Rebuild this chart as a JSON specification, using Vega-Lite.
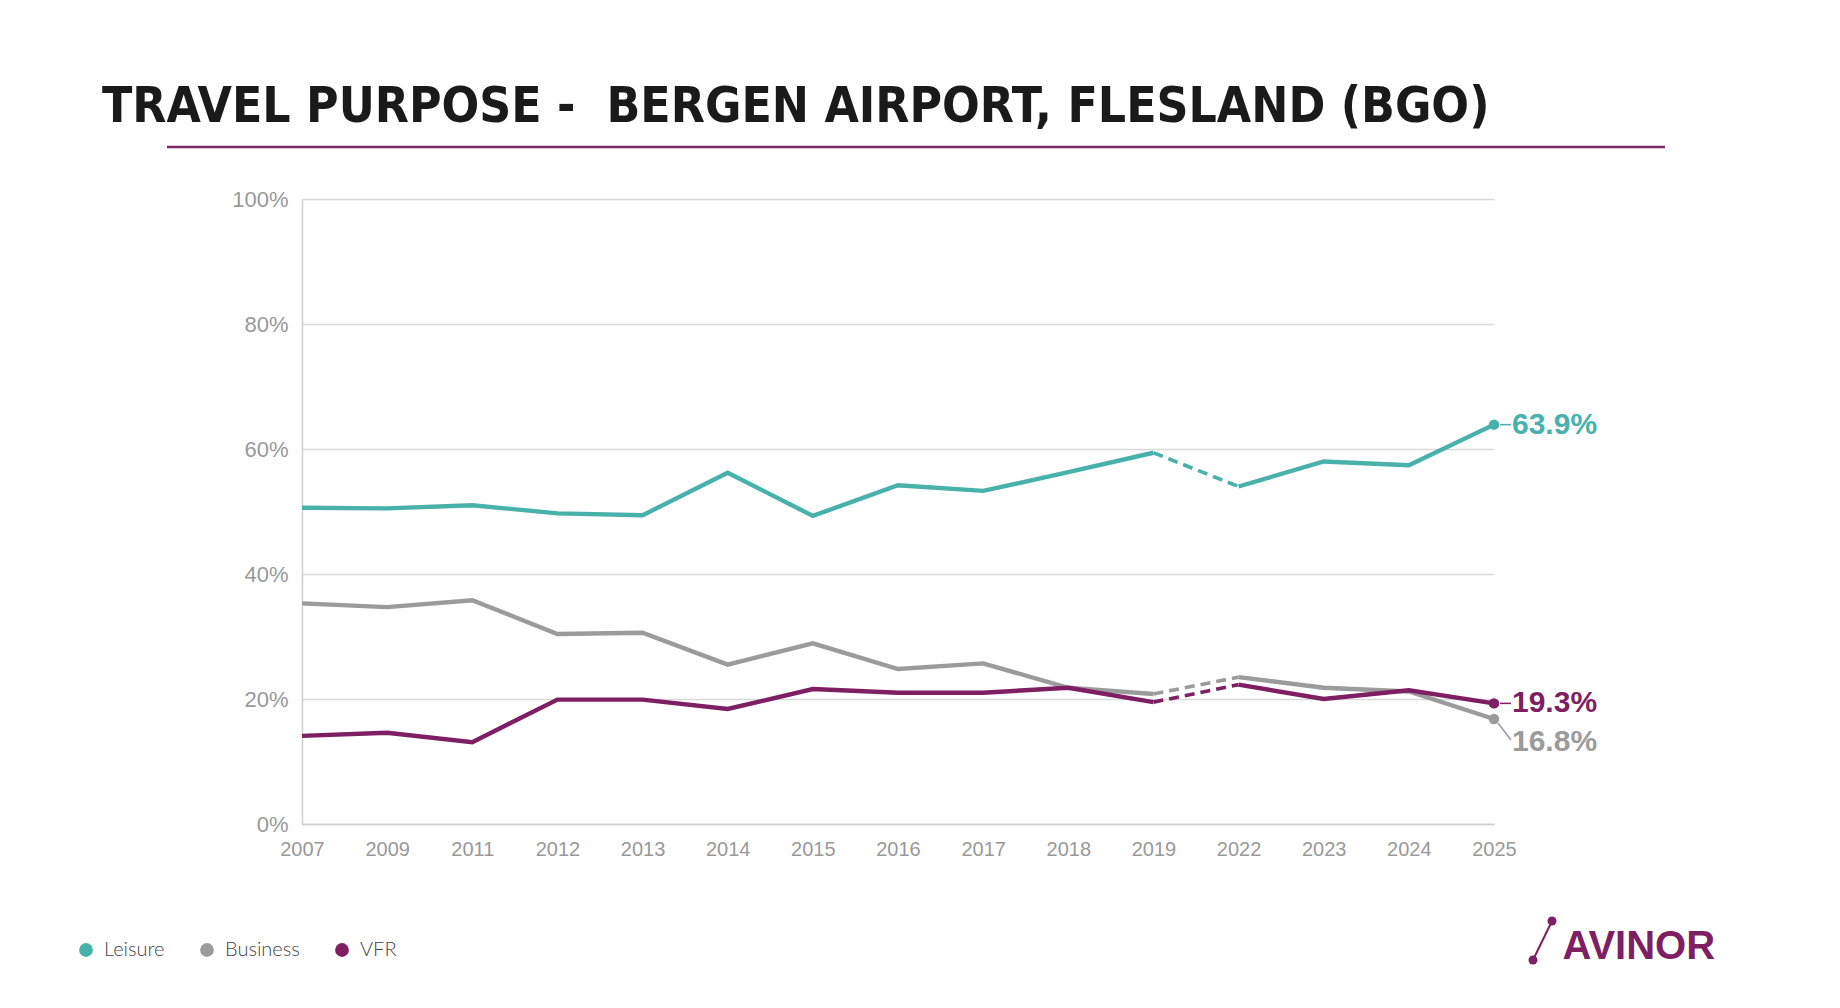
{
  "$schema": "https://vega.github.io/schema/vega-lite/v6.json",
  "width": 1192,
  "height": 625,
  "autosize": {"type": "none"},
  "padding": {"left": 302, "top": 199, "right": 346, "bottom": 184},
  "background": "white",
  "title": {
    "text": "TRAVEL PURPOSE -\u00a0 BERGEN AIRPORT, FLESLAND (BGO)",
    "anchor": "start",
    "frame": "group",
    "dx": -200,
    "offset": -26,
    "baseline": "alphabetic",
    "font": "DejaVu Sans Condensed, sans-serif",
    "fontSize": 49.4,
    "fontWeight": "bold",
    "color": "#1a1a1a"
  },
  "config": {
    "view": {"stroke": null},
    "font": "Liberation Sans",
    "axis": {
      "domainColor": "#d0d0d0",
      "domainWidth": 1.5,
      "gridColor": "#d9d9d9",
      "gridWidth": 1.5,
      "ticks": false,
      "labelColor": "#999999",
      "labelFont": "Liberation Sans"
    }
  },
  "data": {
    "values": [
      {"year": "2007", "i": 0, "purpose": "Leisure", "share": 50.6},
      {"year": "2009", "i": 1, "purpose": "Leisure", "share": 50.5},
      {"year": "2011", "i": 2, "purpose": "Leisure", "share": 51.0},
      {"year": "2012", "i": 3, "purpose": "Leisure", "share": 49.7},
      {"year": "2013", "i": 4, "purpose": "Leisure", "share": 49.4},
      {"year": "2014", "i": 5, "purpose": "Leisure", "share": 56.2},
      {"year": "2015", "i": 6, "purpose": "Leisure", "share": 49.3},
      {"year": "2016", "i": 7, "purpose": "Leisure", "share": 54.2},
      {"year": "2017", "i": 8, "purpose": "Leisure", "share": 53.3},
      {"year": "2018", "i": 9, "purpose": "Leisure", "share": 56.3},
      {"year": "2019", "i": 10, "purpose": "Leisure", "share": 59.4},
      {"year": "2022", "i": 11, "purpose": "Leisure", "share": 54.0},
      {"year": "2023", "i": 12, "purpose": "Leisure", "share": 58.0},
      {"year": "2024", "i": 13, "purpose": "Leisure", "share": 57.4},
      {"year": "2025", "i": 14, "purpose": "Leisure", "share": 63.9},
      {"year": "2007", "i": 0, "purpose": "Business", "share": 35.3},
      {"year": "2009", "i": 1, "purpose": "Business", "share": 34.7},
      {"year": "2011", "i": 2, "purpose": "Business", "share": 35.8},
      {"year": "2012", "i": 3, "purpose": "Business", "share": 30.4},
      {"year": "2013", "i": 4, "purpose": "Business", "share": 30.6},
      {"year": "2014", "i": 5, "purpose": "Business", "share": 25.5},
      {"year": "2015", "i": 6, "purpose": "Business", "share": 28.9},
      {"year": "2016", "i": 7, "purpose": "Business", "share": 24.8},
      {"year": "2017", "i": 8, "purpose": "Business", "share": 25.7},
      {"year": "2018", "i": 9, "purpose": "Business", "share": 21.8},
      {"year": "2019", "i": 10, "purpose": "Business", "share": 20.8},
      {"year": "2022", "i": 11, "purpose": "Business", "share": 23.5},
      {"year": "2023", "i": 12, "purpose": "Business", "share": 21.8},
      {"year": "2024", "i": 13, "purpose": "Business", "share": 21.2},
      {"year": "2025", "i": 14, "purpose": "Business", "share": 16.8},
      {"year": "2007", "i": 0, "purpose": "VFR", "share": 14.1},
      {"year": "2009", "i": 1, "purpose": "VFR", "share": 14.6},
      {"year": "2011", "i": 2, "purpose": "VFR", "share": 13.1},
      {"year": "2012", "i": 3, "purpose": "VFR", "share": 19.9},
      {"year": "2013", "i": 4, "purpose": "VFR", "share": 19.9},
      {"year": "2014", "i": 5, "purpose": "VFR", "share": 18.4},
      {"year": "2015", "i": 6, "purpose": "VFR", "share": 21.6},
      {"year": "2016", "i": 7, "purpose": "VFR", "share": 21.0},
      {"year": "2017", "i": 8, "purpose": "VFR", "share": 21.0},
      {"year": "2018", "i": 9, "purpose": "VFR", "share": 21.8},
      {"year": "2019", "i": 10, "purpose": "VFR", "share": 19.5},
      {"year": "2022", "i": 11, "purpose": "VFR", "share": 22.3},
      {"year": "2023", "i": 12, "purpose": "VFR", "share": 20.0},
      {"year": "2024", "i": 13, "purpose": "VFR", "share": 21.4},
      {"year": "2025", "i": 14, "purpose": "VFR", "share": 19.3}
    ]
  },
  "layer": [
    {
      "resolve": {"legend": {"color": "independent"}},
      "encoding": {
        "x": {
          "field": "year",
          "type": "ordinal",
          "scale": {"type": "point", "padding": 0},
          "axis": {
            "labelAngle": 0,
            "labelFontSize": 20,
            "labelPadding": 15,
            "title": "AVINOR",
            "titleX": 1260,
            "titleY": 134,
            "titleAlign": "left",
            "titleBaseline": "alphabetic",
            "titleFont": "Liberation Sans",
            "titleFontSize": 40,
            "titleFontWeight": "bold",
            "titleColor": "#7d1f62"
          }
        },
        "y": {
          "field": "share",
          "type": "quantitative",
          "scale": {"domain": [0, 100]},
          "axis": {
            "values": [0, 20, 40, 60, 80, 100],
            "labelExpr": "datum.value + '%'",
            "labelFontSize": 22,
            "labelPadding": 14,
            "title": null
          }
        },
        "color": {
          "field": "purpose",
          "type": "nominal",
          "scale": {
            "domain": ["Leisure", "Business", "VFR"],
            "range": ["#47b1aa", "#9b9b9b", "#7d1f62"]
          },
          "legend": null
        }
      },
      "layer": [
        {
          "transform": [{"filter": "datum.i <= 10"}],
          "mark": {"type": "line", "strokeWidth": 4.4}
        },
        {
          "transform": [{"filter": "datum.i >= 10 && datum.i <= 11"}],
          "mark": {"type": "line", "strokeWidth": 3.6, "strokeDash": [10, 6]}
        },
        {
          "transform": [{"filter": "datum.i >= 11"}],
          "mark": {"type": "line", "strokeWidth": 4.4}
        },
        {
          "transform": [{"filter": "datum.i == 14 && datum.purpose != 'Business'"}],
          "mark": {"type": "rule", "strokeWidth": 1.5, "xOffset": 6, "x2Offset": 17},
          "encoding": {"x2": {"field": "year"}}
        },
        {
          "transform": [{"filter": "datum.i == 14 && datum.purpose == 'Business'"}],
          "mark": {"type": "rule", "strokeWidth": 1.5, "xOffset": 4, "yOffset": 4, "x2Offset": 17, "y2Offset": 21},
          "encoding": {"x2": {"field": "year"}, "y2": {"field": "share"}}
        },
        {
          "transform": [{"filter": "datum.i == 14"}],
          "mark": {"type": "circle", "size": 110, "opacity": 1},
          "encoding": {
            "color": {
              "field": "purpose",
              "type": "nominal",
              "legend": {
                "orient": "none",
                "legendX": -226,
                "legendY": 741,
                "direction": "horizontal",
                "title": null,
                "padding": 0,
                "symbolType": "circle",
                "symbolSize": 190,
                "symbolStrokeWidth": 0,
                "labelFont": "Lato, Open Sans, sans-serif",
                "labelFontWeight": 300,
                "labelFontSize": 20,
                "labelColor": "#444444",
                "labelOffset": 8,
                "columnPadding": 32
              }
            }
          }
        },
        {
          "transform": [
            {"filter": "datum.i == 14 && datum.purpose != 'Business'"},
            {"calculate": "format(datum.share, '.1f') + '%'", "as": "label"}
          ],
          "mark": {"type": "text", "align": "left", "baseline": "middle", "dx": 18, "fontSize": 30, "fontWeight": "bold"},
          "encoding": {"text": {"field": "label"}}
        },
        {
          "transform": [
            {"filter": "datum.i == 14 && datum.purpose == 'Business'"},
            {"calculate": "format(datum.share, '.1f') + '%'", "as": "label"}
          ],
          "mark": {"type": "text", "align": "left", "baseline": "middle", "dx": 18, "dy": 23, "fontSize": 30, "fontWeight": "bold"},
          "encoding": {"text": {"field": "label"}}
        }
      ]
    },
    {
      "data": {"values": [{"part": "underline"}]},
      "mark": {"type": "rule", "color": "#7a2a66", "strokeWidth": 2.5, "xOffset": -135, "x2Offset": 171, "yOffset": -52},
      "encoding": {
        "x": {"datum": "2007", "type": "ordinal"},
        "x2": {"datum": "2025"},
        "y": {"datum": 100, "type": "quantitative"}
      }
    },
    {
      "data": {"values": [{"part": "logo"}]},
      "mark": {"type": "rule", "color": "#7d1f62", "strokeWidth": 2, "xOffset": 39, "x2Offset": 58, "yOffset": 136, "y2Offset": 97},
      "encoding": {
        "x": {"datum": "2025", "type": "ordinal"},
        "x2": {"datum": "2025"},
        "y": {"datum": 0, "type": "quantitative"},
        "y2": {"datum": 0}
      }
    },
    {
      "data": {"values": [{"part": "logo"}]},
      "mark": {"type": "circle", "color": "#7d1f62", "opacity": 1, "size": 80, "xOffset": 39, "yOffset": 136},
      "encoding": {
        "x": {"datum": "2025", "type": "ordinal"},
        "y": {"datum": 0, "type": "quantitative"}
      }
    },
    {
      "data": {"values": [{"part": "logo"}]},
      "mark": {"type": "circle", "color": "#7d1f62", "opacity": 1, "size": 80, "xOffset": 58, "yOffset": 97},
      "encoding": {
        "x": {"datum": "2025", "type": "ordinal"},
        "y": {"datum": 0, "type": "quantitative"}
      }
    }
  ]
}
